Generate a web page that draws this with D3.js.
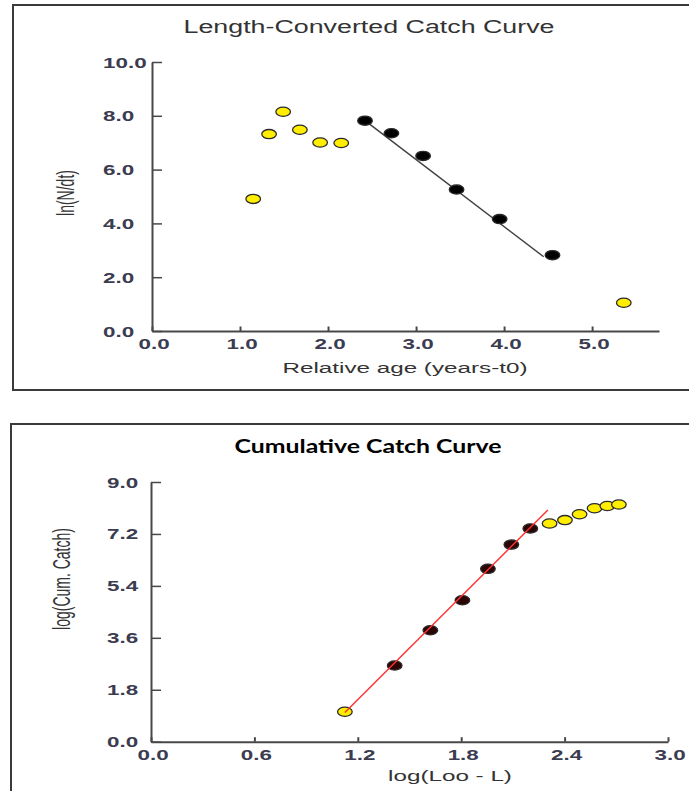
<!DOCTYPE html>
<html>
<head>
<meta charset="utf-8">
<script src="https://cdnjs.cloudflare.com/ajax/libs/d3/7.8.5/d3.min.js"></script>
<style>
  body { margin: 0; background: #fff; }
  svg { display: block; }
</style>
</head>
<body>
<div id="chart"></div>
<script>
// ---- data: length-converted catch curve ----
var ageExcluded = [1.15, 1.33, 1.49, 1.68, 1.91, 2.15, 5.36];
var lnExcluded  = [4.91, 7.32, 8.15, 7.48, 7.01, 6.99, 1.05];
var ageUsed     = [2.42, 2.72, 3.08, 3.46, 3.95, 4.55];
var lnUsed      = [7.82, 7.35, 6.51, 5.26, 4.16, 2.82];
var ageFit      = [2.42, 4.45];
var lnFit       = [7.82, 2.76];
var ageTicks    = [0, 1, 2, 3, 4, 5];
var lnTicks     = [0, 2, 4, 6, 8, 10];

// ---- data: cumulative catch curve ----
var logLExcluded   = [1.125, 2.313, 2.402, 2.487, 2.574, 2.648, 2.715];
var logCumExcluded = [1.04, 7.56, 7.68, 7.88, 8.09, 8.17, 8.22];
var logLUsed       = [1.414, 1.621, 1.807, 1.955, 2.091, 2.201];
var logCumUsed     = [2.64, 3.86, 4.90, 5.99, 6.83, 7.39];
var logLFit        = [1.125, 2.303];
var logCumFit      = [1.01, 8.03];
var logLTicks      = [0, 0.6, 1.2, 1.8, 2.4, 3.0];
var logCumTicks    = [0, 1.8, 3.6, 5.4, 7.2, 9.0];

var W = 689, H = 791;
var FONT = '"Liberation Sans", Arial, sans-serif';

var svg = d3.select('#chart')
    .append('svg')
    .attr('width', W)
    .attr('height', H);

// the screenshot is stretched sideways, so widen text the same way
function stretch(sel, k) {
    sel.each(function() {
        var w = this.getComputedTextLength();
        d3.select(this).attr('textLength', w * k).attr('lengthAdjust', 'spacingAndGlyphs');
    });
}
function fitWidth(sel, w) {
    sel.attr('textLength', w).attr('lengthAdjust', 'spacingAndGlyphs');
}

function zip(xs, ys) {
    return xs.map(function(x, i) { return {x: x, y: ys[i]}; });
}

function drawPanel(o) {
    var g = svg.append('g');

    // frame (right side runs off the picture)
    g.append('rect')
        .attr('x', o.frame[0]).attr('y', o.frame[1])
        .attr('width', 800).attr('height', o.frame[2])
        .attr('fill', 'none')
        .attr('stroke', '#3a3a3a')
        .attr('stroke-width', 2);

    var x = d3.scaleLinear().domain(o.xDomain).range(o.xRange);
    var y = d3.scaleLinear().domain(o.yDomain).range(o.yRange);

    // Y axis: ticks point inwards, labels left aligned
    var yAxis = g.append('g')
        .attr('transform', 'translate(' + o.xRange[0] + ',0)')
        .call(d3.axisRight(y).tickValues(o.yTicks).tickFormat(d3.format('.1f'))
            .tickSize(o.yTickLen).tickSizeOuter(0));
    yAxis.select('.domain').attr('stroke', '#484848').attr('stroke-width', 2);
    yAxis.selectAll('.tick line').attr('stroke', '#484848').attr('stroke-width', 1.5);
    yAxis.selectAll('.tick text')
        .attr('x', o.yLabelX - o.xRange[0])
        .attr('dy', '0.36em')
        .attr('text-anchor', 'start')
        .attr('fill', '#3c3c50')
        .style('font', 'bold 14px ' + FONT)
        .call(stretch, 1.6);

    // X axis: short ticks pointing up
    var xAxis = g.append('g')
        .attr('transform', 'translate(0,' + o.yRange[0] + ')')
        .call(d3.axisTop(x).tickValues(o.xTicks).tickFormat(d3.format('.1f'))
            .tickSize(4.5).tickSizeOuter(0));
    xAxis.select('.domain').attr('stroke', '#484848').attr('stroke-width', 2);
    xAxis.selectAll('.tick line').attr('stroke', '#484848').attr('stroke-width', 2);
    xAxis.selectAll('.tick text')
        .attr('y', 13)
        .attr('x', 1.5)
        .attr('dy', '0.36em')
        .attr('fill', '#3c3c50')
        .style('font', 'bold 14px ' + FONT)
        .call(stretch, 1.6);

    // axis titles
    g.append('text')
        .attr('x', o.xTitle[0]).attr('y', o.xTitle[1])
        .attr('text-anchor', 'middle')
        .attr('fill', '#333')
        .style('font', '14px ' + FONT)
        .text(o.xLabel)
        .call(stretch, 1.73);

    g.append('g')
        .attr('transform', 'translate(' + o.yTitle[0] + ',' + o.yTitle[1] + ') scale(1.7,1) rotate(-90)')
        .append('text')
        .attr('text-anchor', 'middle')
        .attr('dy', '0.35em')
        .attr('fill', '#333')
        .style('font', '14px ' + FONT)
        .text(o.yLabel);

    // chart title
    g.append('text')
        .attr('x', o.titlePos[0]).attr('y', o.titlePos[1])
        .attr('text-anchor', 'middle')
        .attr('fill', o.titleColor)
        .style('font', o.titleFont)
        .text(o.title)
        .call(fitWidth, o.titleWidth);

    var line = d3.line()
        .x(function(d) { return x(d.x); })
        .y(function(d) { return y(d.y); });

    function drawFit() {
        g.append('path')
            .datum(zip(o.fitX, o.fitY))
            .attr('d', line)
            .attr('fill', 'none')
            .attr('stroke', o.fitColor)
            .attr('stroke-width', 1.4);
    }

    if (!o.fitOnTop) drawFit();

    function drawPoints(xs, ys, fill) {
        g.selectAll(null)
            .data(zip(xs, ys))
            .enter()
            .append('ellipse')
            .attr('cx', function(d) { return x(d.x); })
            .attr('cy', function(d) { return y(d.y); })
            .attr('rx', 7.3)
            .attr('ry', 4.6)
            .attr('fill', fill)
            .attr('stroke', '#2a2a2a')
            .attr('stroke-width', 1.3);
    }
    drawPoints(o.exX, o.exY, '#ffee00');
    drawPoints(o.inX, o.inY, o.usedFill);

    if (o.fitOnTop) drawFit();
}

drawPanel({
    frame: [13, 5, 385],
    xDomain: [0, 5.76], xRange: [152, 659],
    yDomain: [0, 10], yRange: [331, 62],
    xTicks: ageTicks, yTicks: lnTicks,
    yTickLen: 10, yLabelX: 103,
    xLabel: 'Relative age (years-t0)', xTitle: [405, 373],
    yLabel: 'ln(N/dt)', yTitle: [66, 193],
    title: 'Length-Converted Catch Curve', titlePos: [369, 33],
    titleFont: '17.5px ' + FONT, titleColor: '#333', titleWidth: 371,
    exX: ageExcluded, exY: lnExcluded,
    inX: ageUsed, inY: lnUsed, usedFill: '#000',
    fitX: ageFit, fitY: lnFit, fitColor: '#404040', fitOnTop: false
});

drawPanel({
    frame: [11, 424, 500],
    xDomain: [0, 3], xRange: [151, 668],
    yDomain: [0, 9], yRange: [741.7, 482],
    xTicks: logLTicks, yTicks: logCumTicks,
    yTickLen: 10, yLabelX: 107,
    xLabel: 'log(Loo - L)', xTitle: [450, 781],
    yLabel: 'log(Cum. Catch)', yTitle: [62, 579],
    title: 'Cumulative Catch Curve', titlePos: [368, 453],
    titleFont: 'bold 18px Lato, "Open Sans", sans-serif', titleColor: '#000', titleWidth: 267,
    exX: logLExcluded, exY: logCumExcluded,
    inX: logLUsed, inY: logCumUsed, usedFill: '#2b0404',
    fitX: logLFit, fitY: logCumFit, fitColor: '#ff3030', fitOnTop: true
});
</script>
</body>
</html>
